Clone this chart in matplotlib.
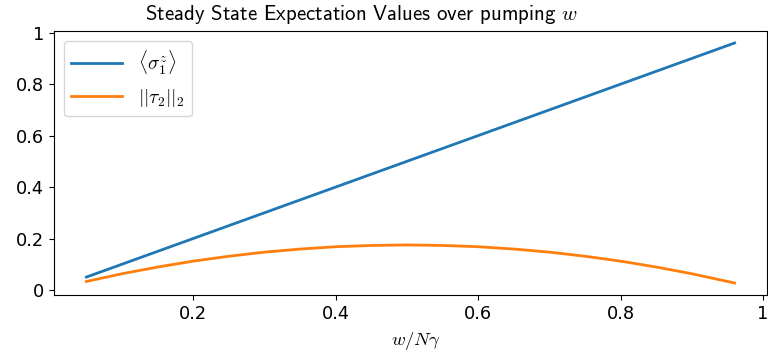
import numpy as np
import matplotlib
matplotlib.use("Agg")
import matplotlib.pyplot as plt
from matplotlib.ticker import FormatStrFormatter

plt.rcParams['mathtext.fontset'] = 'cm'

# pumping strength w/N gamma
w = [0.05, 0.10, 0.15, 0.20, 0.25, 0.30, 0.35, 0.40, 0.45, 0.50,
     0.55, 0.60, 0.65, 0.70, 0.75, 0.80, 0.85, 0.90, 0.96]
# <sigma_1^z>
sigma_z = [0.05, 0.10, 0.15, 0.20, 0.25, 0.30, 0.35, 0.40, 0.45, 0.50,
           0.55, 0.60, 0.65, 0.70, 0.75, 0.80, 0.85, 0.90, 0.96]
# ||tau_2||_2
tau_norm = [0.033, 0.063, 0.089, 0.112, 0.131, 0.147, 0.159, 0.168, 0.173, 0.175,
            0.173, 0.168, 0.159, 0.147, 0.131, 0.112, 0.089, 0.063, 0.027]

fig = plt.figure(figsize=(7.68, 3.55), dpi=100)
ax = fig.add_axes([0.0703, 0.169, 0.9284, 0.7437])

ax.plot(w, sigma_z, label=r'$\langle\sigma_1^z\rangle$', color='#1f77b4', linewidth=2)
ax.plot(w, tau_norm, label=r'$\mathsf{||}\tau_2\mathsf{||}_\mathsf{2}$',
        color='#ff7f0e', linewidth=2)

ax.set_xticks([0.2, 0.4, 0.6, 0.8, 1.0])
ax.set_yticks([0, 0.2, 0.4, 0.6, 0.8, 1.0])
ax.xaxis.set_major_formatter(FormatStrFormatter('%g'))
ax.yaxis.set_major_formatter(FormatStrFormatter('%g'))
ax.tick_params(labelsize=12.8)

ax.set_xlabel(r'$w/N\gamma$', fontsize=13.5, labelpad=5, x=0.508)
ax.set_title(r'Steady State Expectation Values over pumping $w$',
             fontsize=15, family='cmss10', pad=8, x=0.431)
ax.legend(loc='upper left', fontsize=14, handlelength=2.6)

plt.savefig("out.png", dpi=100)
